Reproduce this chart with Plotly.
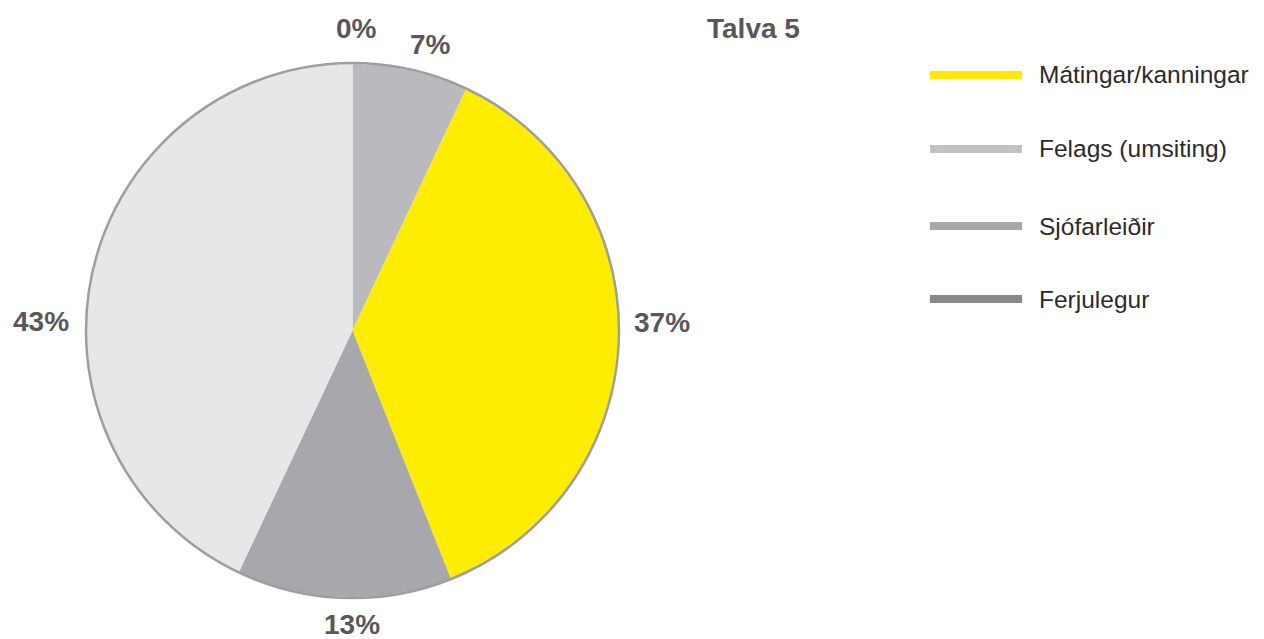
import plotly.graph_objects as go

# slices clockwise from the top
slice_names = ["Ferjulegur", "Felags (umsiting)", "Mátingar/kanningar", "Sjófarleiðir", "Annað"]
slice_values = [0, 7, 37, 13, 43]
slice_colors = ["#87888b", "#b9babd", "#ffed00", "#a7a8ab", "#e6e7e8"]

legend_names = ["Mátingar/kanningar", "Felags (umsiting)", "Sjófarleiðir", "Ferjulegur"]
legend_colors = ["#ffe900", "#c0c1c4", "#a8a9ac", "#87888b"]

title_text = "Talva 5"

W, H = 1264, 639
OFF = 8  # page body margin
# pie box in page pixels
px0, px1, py0, py1 = 86 - OFF, 619 - OFF, 63 - OFF, 598 - OFF

# percentage label spots (page pixels)
label_pos = [(357, 28), (430, 45), (662, 322), (352, 624), (41, 321)]

fig = go.Figure()

fig.add_trace(go.Pie(
    labels=slice_names,
    values=slice_values,
    marker=dict(colors=slice_colors, line=dict(width=0)),
    sort=False,
    direction="clockwise",
    rotation=0,
    textinfo="none",
    showlegend=False,
    hoverinfo="label+percent",
    domain=dict(x=[px0 / W, px1 / W], y=[1 - py1 / H, 1 - py0 / H]),
))

# thin grey rim round the pie only
shapes = [dict(
    type="circle", xref="paper", yref="paper",
    x0=px0 / W, x1=px1 / W, y0=1 - py1 / H, y1=1 - py0 / H,
    line=dict(color="#9d9ea0", width=2.5),
)]

lab_font = dict(family="Liberation Sans", size=28, color="#58585a", weight="bold")
annotations = [dict(
    text=title_text, xref="paper", yref="paper",
    x=(753 - OFF) / W, y=1 - (28 - OFF) / H,
    xanchor="center", yanchor="middle", showarrow=False, font=lab_font,
)]

total = sum(slice_values)
for v, (lx, ly) in zip(slice_values, label_pos):
    annotations.append(dict(
        text=f"{round(100 * v / total)}%", xref="paper", yref="paper",
        x=(lx - OFF) / W, y=1 - (ly - OFF) / H,
        xanchor="center", yanchor="middle", showarrow=False, font=lab_font,
    ))

# legend drawn by hand: long flat bars with text to the right
legend_y = [75, 149, 226, 299]
for name, color, y in zip(legend_names, legend_colors, legend_y):
    yy = 1 - (y - OFF) / H
    shapes.append(dict(
        type="line", xref="paper", yref="paper",
        x0=(930 - OFF) / W, x1=(1022 - OFF) / W, y0=yy, y1=yy,
        line=dict(color=color, width=8),
    ))
    annotations.append(dict(
        text=name, xref="paper", yref="paper",
        x=(1037 - OFF) / W, y=yy, xanchor="left", yanchor="middle",
        showarrow=False,
        font=dict(family="Liberation Sans", size=24.5, color="#2b2b2b"),
    ))

fig.update_layout(
    width=W, height=H,
    margin=dict(l=0, r=0, t=0, b=0),
    paper_bgcolor="white",
    plot_bgcolor="white",
    shapes=shapes,
    annotations=annotations,
)

fig.write_html("out.html")
